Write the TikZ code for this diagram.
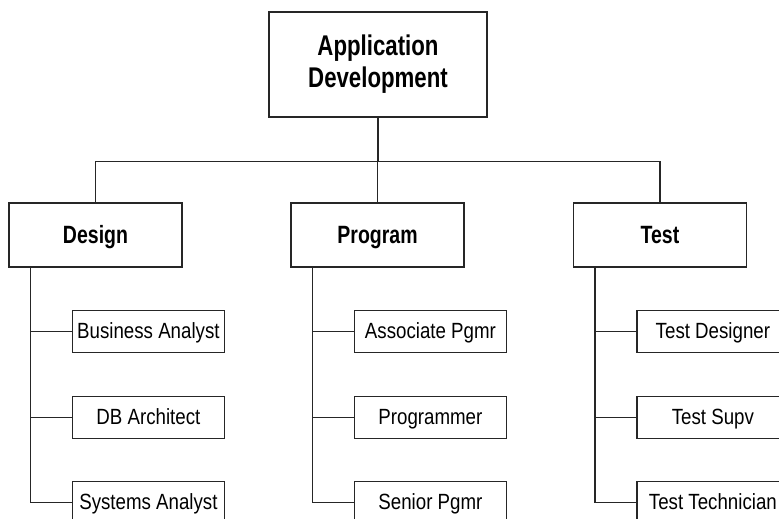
\documentclass[tikz,border=0pt]{standalone}
\usepackage{fontspec}
\setmainfont[FakeStretch=0.85]{Liberation Sans}
\newfontfamily\headfont[FakeStretch=0.78]{Liberation Sans}

\tikzset{
  unit/.style={draw=black!85, line width=1.2pt, fill=white, inner sep=0pt,
    minimum width=173pt, minimum height=64pt, text height=20pt, text depth=4pt,
    font=\headfont\bfseries\fontsize{25}{28}\selectfont},
  role/.style={draw=black!85, line width=1.2pt, fill=white, inner sep=0pt,
    minimum width=152pt, minimum height=42pt, text height=17pt, text depth=3pt,
    font=\fontsize{22}{26}\selectfont},
  link/.style={black!85, line width=1.2pt}
}

\begin{document}
\begin{tikzpicture}[x=1pt, y=-1pt]
  \useasboundingbox (0,0) rectangle (779,519);
  \node[unit, minimum width=218pt, minimum height=105pt, align=center,
    text height=, text depth=,
    font=\headfont\bfseries\fontsize{28.5}{32}\selectfont] (app) at (378,64.5) {Application\\Development};
  \node[unit] (design) at (95.5,235) {Design};
  \node[unit] (program) at (377.5,235) {Program};
  \node[unit] (test) at (660,235) {Test};
  \coordinate (bus) at (378,161.5);
  \draw[link] (app.south) -- (bus);
  \draw[link] (design.north) |- (bus) -| (test.north);
  \draw[link] (program.north) -- (program.north |- bus);
  % roles under each unit
  \foreach \grp/\roleA/\roleB/\roleC in {design/Business Analyst/DB Architect/Systems Analyst,
      program/Associate Pgmr/Programmer/Senior Pgmr,
      test/Test Designer/Test Supv/Test Technician} {
    \foreach \role [count=\i] in {\roleA,\roleB,\roleC} {
      \node[role] (\grp-\i) at ([xshift=140pt, yshift={-64pt-85.5pt*(\i-1)}]\grp.south west) {\role};
      \draw[link] ([xshift=22pt]\grp.south west) |- (\grp-\i.west);
    }
  }
\end{tikzpicture}
\end{document}
